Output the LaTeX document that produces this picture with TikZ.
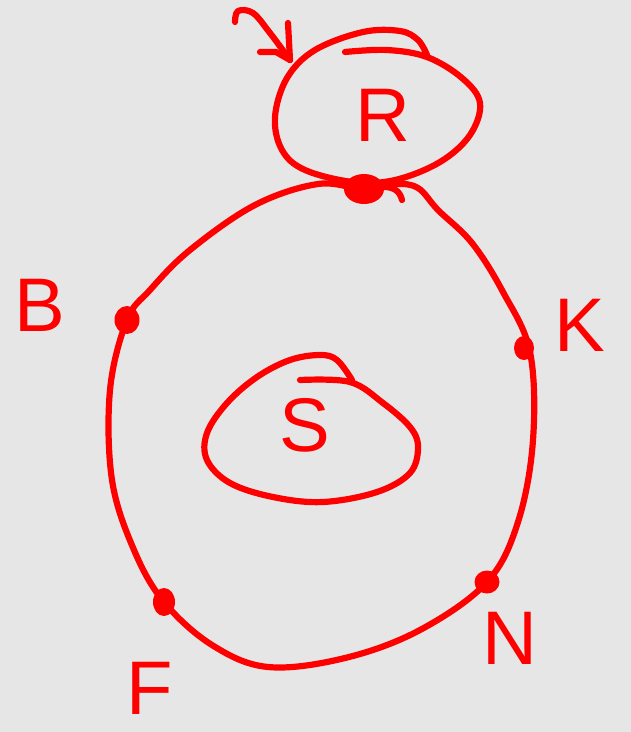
\documentclass[tikz,border=0pt]{standalone}
\usepackage{fontspec}
\setmainfont{Liberation Sans}
\usetikzlibrary{shapes.geometric}
\definecolor{bgc}{HTML}{E6E6E6}
\definecolor{ink}{HTML}{FF0000}
\begin{document}
\begin{tikzpicture}[x=1pt,y=-1pt,
  pen/.style={draw=ink, line width=6.2pt, line cap=round, line join=round},
  dotnode/.style={ellipse, fill=ink, inner sep=0pt},
  lbl/.style={text=ink, inner sep=0pt, font=\fontsize{76}{76}\selectfont}]
\fill[bgc] (0,0) rectangle (631,732);
\useasboundingbox (0,0) rectangle (631,732);

% dots
\node[dotnode, minimum width=40pt, minimum height=30pt] (top) at (364,189) {};
\node[dotnode, minimum width=25pt, minimum height=28pt] (B) at (127,320) {};
\node[dotnode, minimum width=20pt, minimum height=24pt] (K) at (524,348) {};
\node[dotnode, minimum width=22pt, minimum height=28pt] (F) at (164,602) {};
\node[dotnode, minimum width=25pt, minimum height=23pt] (N) at (487,582) {};

% labels
\node[lbl] (Rl) at (383,115) {R};
\node[lbl] (Sl) at (305,425) {S};
\node[lbl] (Bl) at (40,305) {B};
\node[lbl] (Kl) at (580,325) {K};
\node[lbl] (Fl) at (150,688) {F};
\node[lbl] (Nl) at (510,638) {N};

% big loop
\draw[pen] plot[smooth cycle, tension=0.6] coordinates {
  (top.center) (318,184) (255,205) (190,250) (150,290) (B.center)
  (110,390) (112,480) (134,550) (F.center) (212,645) (268,667)
  (345,658) (420,630) (N.center) (518,522) (533,440) (530,352)
  (503,292) (472,243) (438,210) (418,188) (395,184)};
\draw[pen] (380,187) .. controls (395,186) and (400,192) .. (402,200);

% R loop
\draw[pen] plot[smooth, tension=0.6] coordinates {
  (345,52) (387,50) (427,57) (462,78) (480,103) (470,135) (440,162)
  (395,180) (353,182) (305,170) (282,150) (275,117) (287,78) (315,50)
  (363,32) (400,31) (418,40) (427,55)};

% S loop
\draw[pen] plot[smooth, tension=0.6] coordinates {
  (300,380) (350,382) (383,403) (410,427) (418,447) (410,473) (377,492)
  (323,502) (273,497) (230,483) (207,460) (207,433) (227,403) (257,377)
  (290,360) (320,355) (337,360) (352,380)};

% entry arrow
\coordinate (tip) at (290,60);
\draw[pen] plot[smooth, tension=0.6] coordinates {(235,22) (238,11) (253,13) (270,33) (tip)};
\draw[pen] (288,23) -- (tip);
\draw[pen] (260,52) -- (276,52) -- (tip);
\end{tikzpicture}
\end{document}
